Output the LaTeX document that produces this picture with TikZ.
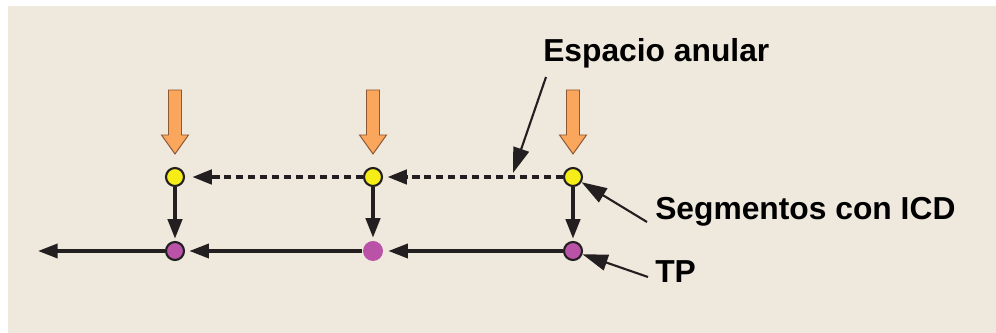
\documentclass[tikz,border=0pt]{standalone}
\usepackage{fontspec}
\setmainfont{Liberation Sans}
\usetikzlibrary{arrows.meta, positioning, calc}
\definecolor{sandbg}{RGB}{239, 232, 221}
\definecolor{icdyellow}{RGB}{246, 236, 24}
\definecolor{tpmagenta}{RGB}{186, 82, 168}
\definecolor{flowink}{RGB}{35, 31, 32}
\definecolor{inflowfill}{RGB}{250, 166, 92}
\definecolor{inflowedge}{RGB}{140, 88, 52}

\begin{document}
\begin{tikzpicture}[
    x=0.025cm, y=-0.025cm,
    icd/.style={circle, draw=flowink, line width=1.5pt, fill=icdyellow,
                minimum size=0.45cm, inner sep=0pt},
    tp/.style={circle, draw=flowink, line width=1.5pt, fill=tpmagenta,
               minimum size=0.45cm, inner sep=0pt},
    flow/.style={-{Triangle[length=14pt, width=10pt]}, line width=2.5pt, flowink},
    annul/.style={flow, line width=3pt, dash pattern=on 5pt off 3.5pt},
    drop/.style={flow, line width=2.8pt, shorten >=1.5pt},
    lead/.style={-{Triangle[length=18pt, width=11.5pt]}, line width=1.5pt, flowink},
    inflow/.style={draw=inflowedge, line width=0.7pt, fill=inflowfill, line join=miter},
    lbl/.style={font=\fontsize{22.6}{27}\selectfont\bfseries, inner sep=0pt, anchor=base west}
]
    \useasboundingbox (0,0) rectangle (996,333);
    \fill[sandbg] (8,6) rectangle (996,333);

    % ICD segments (annulus) and tubing points
    \node[icd] (s1) at (175,177) {};
    \node[icd] (s2) at (373,177) {};
    \node[icd] (s3) at (573,177) {};
    \node[tp] (p1) at (175,251) {};
    \node[tp, draw=none, minimum size=0.5cm] (p2) at (373,251) {};
    \node[tp] (p3) at (573,251) {};
    \coordinate (outlet) at (38,251);

    % inflow from the reservoir
    \foreach \n in {s1, s2, s3}
        \draw[inflow] ($(\n)+(0,-23)$) -- ++(-13.5,-19) -- ++(7,0) -- ++(0,-45)
            -- ++(13,0) -- ++(0,45) -- ++(7,0) -- cycle;

    \draw[annul, shorten >=3pt] (s3) -- (s2);
    \draw[annul, shorten >=5pt] (s2) -- (s1);
    \foreach \i in {1,2,3}
        \draw[drop] (s\i) -- (p\i);
    \draw[flow, shorten >=3pt] (p3) -- (p2);
    \draw[flow, shorten >=3pt] (p2) -- (p1);
    \draw[flow] (p1) -- (outlet);

    % labels
    \node[lbl] (espacio) at (543,62) {Espacio anular};
    \node[lbl] (segm) at (655,220) {Segmentos con ICD};
    \node[lbl] (tplbl) at (655,283) {TP};
    \coordinate (annulus) at (513,173);

    \draw[lead] ($(espacio.base west)+(3,15)$) -- (annulus);
    \draw[lead] ($(segm.base west)+(-8,2)$) -- (s3);
    \draw[lead] ($(tplbl.base west)+(-7,-6)$) -- (p3);
\end{tikzpicture}
\end{document}
